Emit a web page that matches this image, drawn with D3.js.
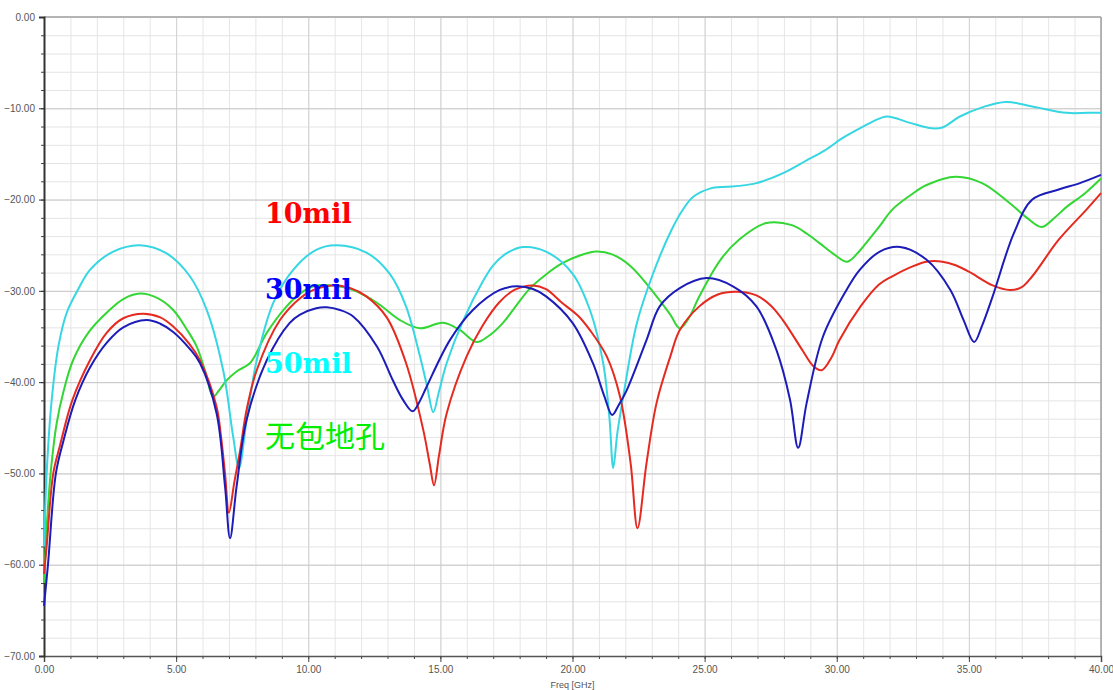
<!DOCTYPE html>
<html>
<head>
<meta charset="utf-8">
<script src="https://cdn.jsdelivr.net/npm/d3@7"></script>
<style>
  body { margin: 0; background: #fff; }
  .tick text { font-family: "Liberation Sans Narrow", "Arial Narrow", "Liberation Sans", sans-serif; fill: #555; }
</style>
</head>
<body>
<script>
// Freq [GHz] / dB, one pair of arrays per curve
var freq10 = [0, 0.1, 0.35, 0.6, 1.07, 1.74, 2.37, 3.0, 3.75, 4.4, 4.89, 5.5, 5.9, 6.53, 6.7, 6.85, 7.0, 7.2, 7.42, 7.67, 8.05, 8.93, 9.69, 10.2, 10.9, 11.6, 12.2, 12.97, 13.7, 14.35, 14.6, 14.76, 14.95, 15.24, 15.99, 16.6, 17.25, 17.8, 18.5, 19.0, 19.6, 20.2, 20.66, 21.3, 21.8, 22.2, 22.46, 22.8, 23.18, 23.7, 24.06, 24.8, 25.5, 26.2, 26.96, 27.5, 27.96, 28.7, 29.1, 29.43, 29.8, 30.1, 30.9, 31.6, 32.1, 32.8, 33.4, 34.0, 34.5, 35.0, 35.9, 36.55, 37.0, 37.4, 38.4, 39.45, 40];
var db10 = [-61, -58, -50, -47, -42, -37.6, -34.6, -33, -32.5, -32.9, -33.9, -35.8, -37.6, -42.7, -46, -50, -54.3, -51, -47.5, -43, -38.7, -33.2, -30.8, -29.9, -29.4, -29.7, -30.6, -32.9, -37.9, -45.2, -49, -51.3, -48, -43.4, -37.2, -33.8, -31.2, -29.9, -29.4, -29.8, -31.3, -32.7, -34.3, -37.2, -41.6, -48.9, -56, -48.9, -42.3, -37.2, -34.3, -31.7, -30.4, -30.1, -30.5, -31.6, -33.2, -36.5, -38.2, -38.7, -37.3, -35.4, -31.7, -29.3, -28.4, -27.4, -26.8, -26.8, -27.2, -27.9, -29.4, -29.9, -29.6, -28.4, -24.4, -21.1, -19.3];

var freq30 = [0, 0.15, 0.45, 0.73, 1.18, 1.74, 2.37, 3.0, 3.88, 4.4, 4.89, 5.5, 5.9, 6.53, 6.85, 7.04, 7.29, 7.67, 8.43, 9.3, 9.69, 10.3, 10.7, 11.2, 11.7, 12.6, 13.2, 13.6, 13.95, 14.2, 14.48, 15.36, 16.23, 17.25, 17.88, 18.5, 19.0, 20.0, 20.77, 21.2, 21.5, 21.75, 22.05, 22.8, 23.3, 24.06, 25.07, 26.07, 26.96, 27.72, 28.23, 28.54, 28.86, 29.48, 30.37, 30.87, 31.63, 32.4, 33.4, 34.3, 34.8, 35.2, 35.5, 35.9, 36.7, 37.4, 38.4, 39.2, 40];
var db30 = [-64.5, -60, -50, -46.5, -42, -38.4, -35.7, -34, -33.2, -33.6, -34.5, -36.3, -37.9, -43.4, -51.4, -57.1, -51.4, -44.1, -37.6, -33.5, -32.6, -31.9, -31.8, -32.1, -32.8, -36.1, -39.8, -42, -43.2, -42.2, -40.5, -35.4, -32.1, -29.9, -29.5, -29.8, -30.6, -33.5, -37.9, -41.5, -43.6, -42.5, -40.9, -35.4, -31.7, -29.7, -28.6, -29.5, -31.7, -36.5, -41.9, -47.2, -42.3, -35, -29.9, -27.7, -25.7, -25.2, -26.6, -29.9, -33.2, -35.6, -33.8, -30.6, -23.7, -20, -18.9, -18.2, -17.3];

var freq50 = [0, 0.1, 0.29, 0.55, 0.86, 1.3, 1.74, 2.62, 3.63, 4.64, 5.52, 6.16, 6.78, 7.16, 7.38, 7.67, 8.05, 8.68, 9.43, 10.3, 11.07, 12.2, 13.1, 13.7, 14.23, 14.5, 14.73, 14.95, 15.24, 15.87, 16.62, 17.0, 17.5, 18.13, 19.0, 20.0, 20.66, 21.16, 21.4, 21.54, 21.7, 21.92, 22.43, 23.05, 23.75, 24.2, 24.57, 25.2, 25.8, 26.3, 26.96, 27.97, 28.86, 29.55, 30.2, 30.87, 31.4, 31.9, 32.77, 33.6, 34.0, 34.66, 35.5, 36.4, 37.4, 38.7, 39.5, 40];
var db50 = [-58, -50, -42, -36, -32.4, -29.8, -27.7, -25.7, -25, -25.9, -28.4, -32.1, -38.7, -46, -49.4, -44.1, -37.6, -31.3, -27.7, -25.5, -25, -25.8, -28.2, -31.7, -37.2, -40.5, -43.3, -41, -37.9, -33.2, -28.9, -27.2, -25.9, -25.2, -25.7, -28.1, -32.1, -37.9, -44, -49.4, -45.5, -41.6, -33.6, -28.1, -23.3, -21, -19.7, -18.8, -18.6, -18.5, -18.2, -17.1, -15.7, -14.6, -13.3, -12.2, -11.4, -10.9, -11.6, -12.2, -12.1, -10.9, -9.9, -9.3, -9.8, -10.5, -10.5, -10.5];

var freqNone = [0, 0.1, 0.25, 0.48, 0.74, 1.1, 1.7, 2.37, 3.0, 3.63, 4.3, 4.89, 5.4, 5.78, 6.1, 6.4, 6.6, 6.91, 7.3, 7.8, 8.43, 9.18, 9.69, 10.2, 10.9, 11.7, 12.6, 13.47, 14.23, 15.1, 15.74, 16.37, 16.8, 17.37, 17.9, 18.4, 19.0, 19.6, 20.3, 20.9, 21.5, 22.2, 23.18, 23.7, 24.06, 24.4, 24.8, 25.6, 26.3, 27.3, 28.3, 28.9, 29.36, 29.9, 30.4, 30.87, 31.1, 31.6, 32.1, 32.8, 33.4, 34.5, 35.5, 36.55, 37.2, 37.75, 38.2, 38.7, 39.4, 40];
var dbNone = [-62, -56, -50, -44.5, -41, -37.6, -34.5, -32.4, -30.9, -30.3, -30.8, -32.1, -34.2, -36.1, -38.8, -41.6, -41, -39.8, -38.8, -37.9, -34.6, -31.7, -30.3, -29.5, -29.4, -29.9, -31.3, -33.2, -34.1, -33.5, -34.3, -35.6, -35, -33.5, -31.5, -29.7, -28.2, -27, -26.1, -25.7, -26, -27.3, -30.6, -32.6, -34.1, -33, -30.6, -26.6, -24.4, -22.6, -22.8, -23.8, -24.8, -26, -26.8, -25.6, -24.8, -23, -21.1, -19.5, -18.4, -17.5, -18.2, -20.4, -22, -23, -22.1, -20.8, -19.3, -17.7];

var seriesNames = ["10mil", "30mil", "50mil", "无包地孔"];
var yTicks = [0, -10, -20, -30, -40, -50, -60, -70];
var xTicks = [0, 5, 10, 15, 20, 25, 30, 35, 40];

var width = 1113, height = 690;
var marginLeft = 44, marginTop = 17, plotW = 1057, plotH = 639;

var svg = d3.select("body").append("svg")
    .attr("width", width)
    .attr("height", height);

var x = d3.scaleLinear().domain([0, 40]).range([0, plotW]);
var y = d3.scaleLinear().domain([0, -70]).range([0, plotH]);

var g = svg.append("g").attr("transform", "translate(" + marginLeft + "," + marginTop + ")");

// gitter: fina linjer först, sedan de grova
g.append("g").call(d3.axisBottom(x).tickValues(d3.range(0, 41, 1)).tickSize(plotH).tickFormat(""))
    .call(function(a) { a.select(".domain").remove(); a.selectAll("line").attr("stroke", "#e6e6e6"); });
g.append("g").call(d3.axisLeft(y).tickValues(d3.range(0, -71, -2)).tickSize(-plotW).tickFormat(""))
    .call(function(a) { a.select(".domain").remove(); a.selectAll("line").attr("stroke", "#e4e4e4"); });
g.append("g").call(d3.axisBottom(x).tickValues(xTicks).tickSize(plotH).tickFormat(""))
    .call(function(a) { a.select(".domain").remove(); a.selectAll("line").attr("stroke", "#d2d2d2"); });
g.append("g").call(d3.axisLeft(y).tickValues(yTicks).tickSize(-plotW).tickFormat(""))
    .call(function(a) { a.select(".domain").remove(); a.selectAll("line").attr("stroke", "#c8c8c8"); });

// ram
g.append("line").attr("x1", 0).attr("x2", plotW).attr("y1", 0).attr("y2", 0)
    .attr("stroke", "#b4b4b4").attr("stroke-width", 2);
g.append("line").attr("x1", plotW).attr("x2", plotW).attr("y1", 0).attr("y2", plotH)
    .attr("stroke", "#a0a0a0").attr("stroke-width", 1.5);

// små tickar
g.append("g").attr("transform", "translate(0," + plotH + ")")
    .call(d3.axisBottom(x).tickValues(d3.range(0, 41, 1)).tickSize(3).tickFormat(""))
    .call(function(a) { a.select(".domain").remove(); a.selectAll("line").attr("stroke", "#444"); });
g.append("g")
    .call(d3.axisLeft(y).tickValues(d3.range(0, -71, -2)).tickSize(3).tickFormat(""))
    .call(function(a) { a.select(".domain").remove(); a.selectAll("line").attr("stroke", "#444"); });

// axlar med etiketter
var xAxis = g.append("g").attr("transform", "translate(0," + plotH + ")")
    .call(d3.axisBottom(x).tickValues(xTicks).tickSize(6).tickPadding(4).tickFormat(d3.format(".2f")));
xAxis.select(".domain").attr("stroke", "#555").attr("stroke-width", 1.5);
xAxis.selectAll("line").attr("stroke", "#444");
xAxis.selectAll("text").attr("font-size", 10);

var yAxis = g.append("g")
    .call(d3.axisLeft(y).tickValues(yTicks).tickSize(5).tickPadding(4).tickFormat(d3.format(".2f")));
yAxis.select(".domain").attr("stroke", "#333").attr("stroke-width", 2);
yAxis.selectAll("line").attr("stroke", "#333");
yAxis.selectAll("text").attr("font-size", 10);

svg.append("text")
    .attr("x", marginLeft + x(20)).attr("y", 688)
    .attr("text-anchor", "middle")
    .attr("font-family", "Liberation Sans Narrow, Liberation Sans, sans-serif")
    .attr("font-size", 9).attr("fill", "#555")
    .text("Freq [GHz]");

// kurvor
var line = d3.line()
    .x(function(d) { return x(d[0]); })
    .y(function(d) { return y(d[1]); })
    .curve(d3.curveCatmullRom.alpha(0.5));

var curves = [
    { f: freqNone, v: dbNone, color: "#33d633" },
    { f: freq50, v: db50, color: "#36d6e2" },
    { f: freq10, v: db10, color: "#e52a1f" },
    { f: freq30, v: db30, color: "#1c1cb8" }
];
curves.forEach(function(c) {
    g.append("path")
        .datum(d3.zip(c.f, c.v))
        .attr("fill", "none")
        .attr("stroke", c.color)
        .attr("stroke-width", 2)
        .attr("d", line);
});

// etiketter
var labelColors = ["#ff0000", "#0000ff", "#00ffff", "#00ee00"];
var labelY = [223, 299, 373, 447];
seriesNames.forEach(function(name, i) {
    var cjk = i == 3;
    svg.append("text")
        .attr("x", 265).attr("y", labelY[i])
        .attr("font-family", cjk ? "Noto Sans CJK SC" : "DejaVu Serif")
        .attr("font-weight", cjk ? "normal" : "bold")
        .attr("font-size", cjk ? 30 : 27)
        .attr("fill", labelColors[i])
        .text(name);
});
</script>
</body>
</html>
